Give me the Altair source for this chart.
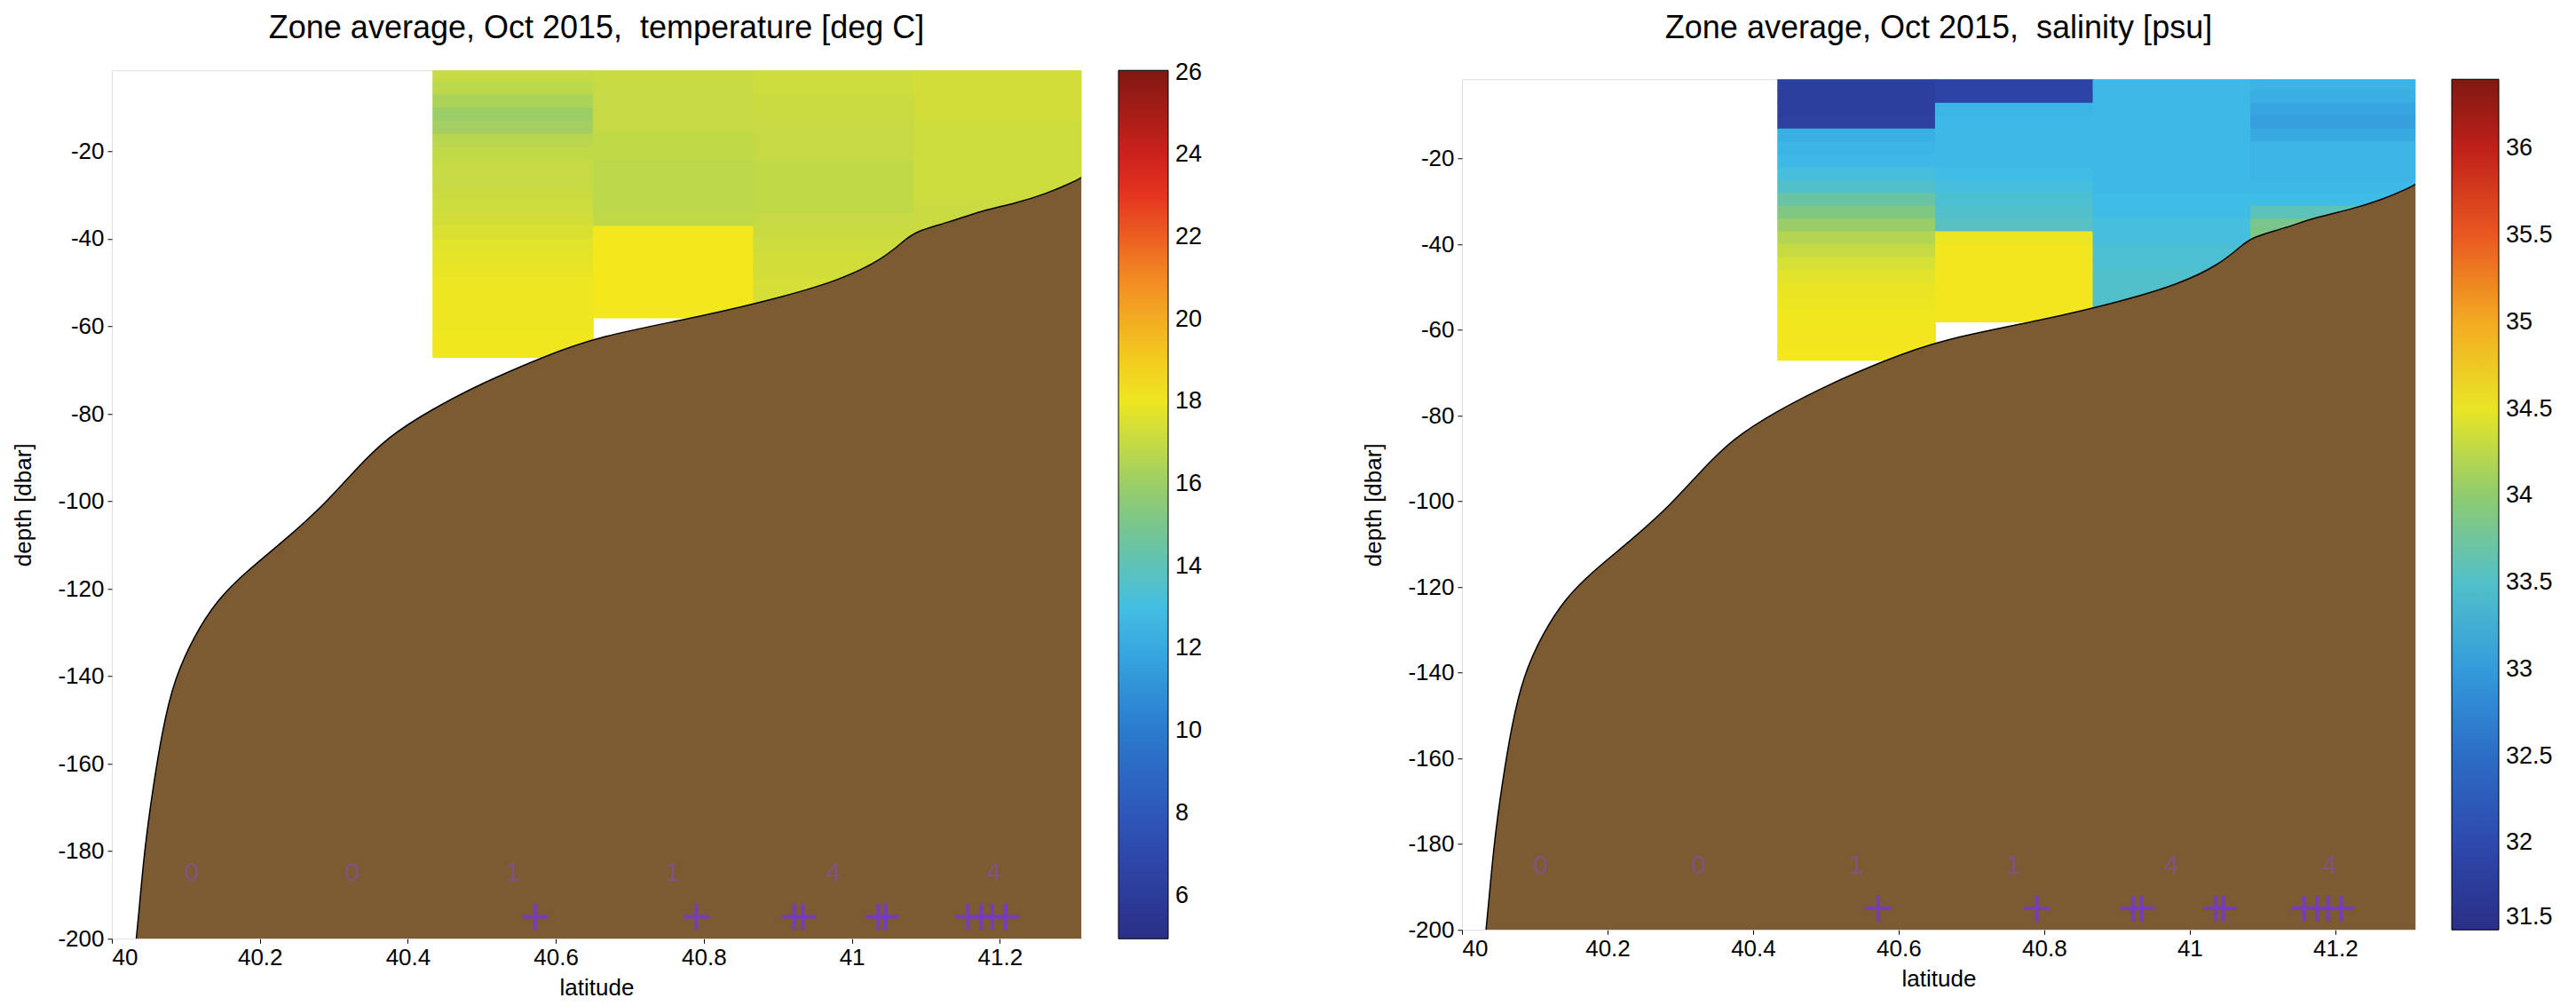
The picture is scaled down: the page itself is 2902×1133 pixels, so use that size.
import altair as alt
import pandas as pd

FONT = "Liberation Sans"

# ---- zones (latitude bands) ----
zone_left = [40.0, 40.2167, 40.4333, 40.65, 40.8667, 41.0833]
zone_right = [40.2167, 40.4333, 40.65, 40.8667, 41.0833, 41.31]
zone_center = [40.108, 40.325, 40.542, 40.758, 40.975, 41.192]
zone_count = ["0", "0", "1", "1", "4", "4"]

# ---- stations ----
station_lat = [40.572, 40.79, 40.922, 40.934, 41.036, 41.046, 41.157, 41.175, 41.19, 41.208]

# ---- depth bins (dbar) ----
bin_top = [-1, -4, -7, -10, -13, -16, -19, -22, -25, -28, -31, -34, -37, -40, -43, -46, -49, -52, -55, -58, -61, -64]
bin_bottom = [-4, -7, -10, -13, -16, -19, -22, -25, -28, -31, -34, -37, -40, -43, -46, -49, -52, -55, -58, -61, -64, -67]

# ---- zone-average temperature profiles [deg C] ----
temp_zone3 = [17.0, 16.8, 16.4, 16.0, 16.2, 16.7, 16.9, 17.0, 17.0, 17.1, 17.2, 17.3, 17.5, 17.7, 17.8, 17.9, 17.95, 18.0, 18.0, 18.0, 18.05, 18.05]
temp_zone4 = [17.1, 17.0, 17.0, 17.0, 17.0, 16.9, 16.9, 16.8, 16.8, 16.8, 16.8, 16.9, 18.1, 18.15, 18.15, 18.15, 18.15, 18.15, 18.1]
temp_zone5 = [17.2, 17.2, 17.1, 17.1, 17.0, 17.0, 17.0, 16.9, 16.9, 16.9, 16.9, 17.0, 17.1, 17.2, 17.3, 17.3, 17.4, 17.4]
temp_zone6 = [17.3, 17.3, 17.3, 17.3, 17.2, 17.2, 17.2, 17.2, 17.2, 17.2, 17.1, 17.1, 17.1, 17.1]

# ---- zone-average salinity profiles [psu] ----
sal_zone3 = [31.8, 31.8, 31.8, 31.85, 33.2, 33.25, 33.3, 33.4, 33.5, 33.7, 33.9, 34.05, 34.2, 34.3, 34.4, 34.46, 34.5, 34.52, 34.54, 34.55, 34.55, 34.56]
sal_zone4 = [31.9, 31.9, 33.25, 33.3, 33.3, 33.3, 33.3, 33.35, 33.4, 33.45, 33.5, 33.55, 34.52, 34.55, 34.55, 34.55, 34.55, 34.55, 34.55]
sal_zone5 = [33.3, 33.3, 33.3, 33.3, 33.3, 33.3, 33.3, 33.3, 33.3, 33.35, 33.35, 33.4, 33.4, 33.45, 33.45, 33.5, 33.5, 33.5]
sal_zone6 = [33.25, 33.2, 33.1, 33.05, 33.15, 33.25, 33.25, 33.25, 33.3, 33.35, 33.6, 33.85, 33.9, 33.9]

# ---- bathymetry (bottom profile) ----
bathy_lat = [40.033, 40.036, 40.044, 40.055, 40.068, 40.084, 40.111, 40.142, 40.18, 40.233, 40.287, 40.33, 40.372,
             40.431, 40.50, 40.58, 40.656, 40.799, 40.909, 40.986, 41.042, 41.07, 41.086, 41.13, 41.175, 41.219,
             41.263, 41.30, 41.31]
bathy_depth = [-200, -195, -179.8, -166.1, -152.5, -140.8, -130.8, -122.6, -116.3, -109, -100.8, -92.6, -85.4,
               -79.1, -73, -67.2, -62.3, -57.7, -53.2, -49.3, -44.6, -40.5, -38.3, -36.3, -33.6, -32,
               -29.7, -27, -26]

# ---- axis ticks / colorbar ticks ----
lat_ticks = [40, 40.2, 40.4, 40.6, 40.8, 41, 41.2]
depth_ticks = [-20, -40, -60, -80, -100, -120, -140, -160, -180, -200]
temp_ticks = [6, 8, 10, 12, 14, 16, 18, 20, 22, 24, 26]
sal_ticks = [31.5, 32, 32.5, 33, 33.5, 34, 34.5, 35, 35.5, 36]

JET = ["#2a2f86", "#2f4fb6", "#2a7fd0", "#3fbde8", "#86c878", "#f4e81c", "#f39324", "#e2241f", "#801812"]
BROWN = "#7c5a32"
PURPLE = "#7438d0"


def heat_df(profiles):
    rows = []
    for zi, vals in profiles:
        for i, v in enumerate(vals):
            rows.append(dict(lat=zone_left[zi], lat2=zone_right[zi], depth=bin_top[i], depth2=bin_bottom[i], v=v))
    return pd.DataFrame(rows)


bathy_df = pd.DataFrame({"lat": bathy_lat, "depth": bathy_depth})
label_df = pd.DataFrame({"lat": zone_center, "depth": [-185] * len(zone_center), "label": zone_count})
station_df = pd.DataFrame({"lat": station_lat, "depth": [-195] * len(station_lat)})


def panel(profiles, title, dom, ticks, width, height, title_offset, legend_offset, thickness):
    xs = alt.Scale(domain=[40, 41.31], nice=False, zero=False)
    ys = alt.Scale(domain=[-200, -1.5], nice=False, zero=False)
    xaxis = alt.Axis(values=lat_ticks, labelExpr="'' + datum.value", grid=False, domain=False,
                     tickSize=5, tickColor="black", labelFontSize=26, titleFontSize=26,
                     labelPadding=3, titlePadding=8, labelColor="black", titleColor="black",
                     titleFontWeight="normal", labelFont=FONT, titleFont=FONT)
    yaxis = alt.Axis(values=depth_ticks, labelExpr="'' + datum.value", grid=False, domain=False,
                     tickSize=5, tickColor="black", labelFontSize=26, titleFontSize=26,
                     labelPadding=4, titlePadding=25, labelColor="black", titleColor="black",
                     titleFontWeight="normal", labelFont=FONT, titleFont=FONT)

    def X(f="lat"):
        return alt.X(f + ":Q", scale=xs, axis=xaxis, title="latitude")

    def Y(f="depth"):
        return alt.Y(f + ":Q", scale=ys, axis=yaxis, title="depth [dbar]")

    n = len(JET)
    stops = [dom[0] + (dom[1] - dom[0]) * i / (n - 1) for i in range(n)]
    cs = alt.Scale(domain=stops, range=JET, interpolate="rgb")
    leg = alt.Legend(title=None, orient="right", offset=legend_offset, type="gradient",
                     direction="vertical", gradientLength=height, gradientThickness=thickness,
                     gradientStrokeColor="black", gradientStrokeWidth=1, values=ticks,
                     labelExpr="'' + datum.value", labelFontSize=27, labelFont=FONT,
                     labelColor="black", labelOffset=8, labelOverlap=False,
                     labelBaseline="middle")

    # small overlap (1px) between neighbouring cells hides anti-aliasing seams
    heat = alt.Chart(heat_df(profiles)).mark_rect(clip=True, y2Offset=1, x2Offset=1).encode(
        x=X(), x2="lat2:Q", y=Y(), y2="depth2:Q",
        color=alt.Color("v:Q", scale=cs, legend=leg),
    )
    area = alt.Chart(bathy_df).mark_area(color=BROWN, clip=True, interpolate="basis").encode(
        x=X(), y=Y(), y2=alt.datum(-200)
    )
    edge = alt.Chart(bathy_df).mark_line(color="black", strokeWidth=1.5, clip=True,
                                         interpolate="basis").encode(
        x=X(), y=Y()
    )
    labels = alt.Chart(label_df).mark_text(fontSize=30, font=FONT, color="#8a4fc0", opacity=0.55,
                                          align="center", baseline="middle").encode(
        x=X(), y=Y(), text="label:N"
    )
    stations = alt.Chart(station_df).mark_point(shape="M-1,0L1,0M0,-1L0,1", size=850, strokeWidth=4,
                                                color=PURPLE, filled=False, opacity=0.85).encode(
        x=X(), y=Y()
    )
    return alt.layer(heat, area, edge, labels, stations).properties(
        width=width, height=height,
        title=alt.TitleParams(title, fontSize=36, font=FONT, fontWeight="normal", color="black",
                              anchor="middle", frame="group", offset=title_offset),
    )


left = panel([(2, temp_zone3), (3, temp_zone4), (4, temp_zone5), (5, temp_zone6)],
             "Zone average, Oct 2015,\u00a0 temperature [deg C]", [4.95, 26.05], temp_ticks,
             1092, 978, 28, 42, 56)
right = panel([(2, sal_zone3), (3, sal_zone4), (4, sal_zone5), (5, sal_zone6)],
              "Zone average, Oct 2015,\u00a0 salinity [psu]", [31.5, 36.4], sal_ticks,
              1074, 958, 38, 41, 53)

chart = alt.hconcat(left, right, spacing=178, center=True).resolve_scale(
    color="independent", x="independent", y="independent"
).resolve_legend(color="independent").configure_view(
    stroke="black", strokeWidth=1.5
).configure(background="white")

chart.save("out.html", embed_options={"renderer": "svg", "actions": False})
